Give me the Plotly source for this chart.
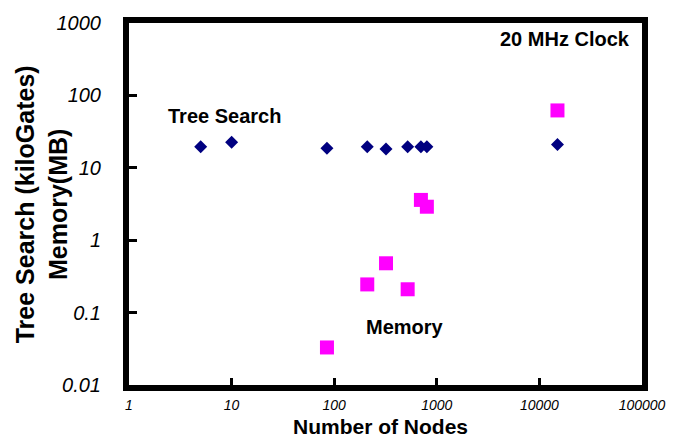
import plotly.graph_objects as go

tree_nodes = [5, 10, 85, 210, 320, 520, 700, 800, 15000]
tree_kgates = [19.5, 22.5, 18.6, 19.5, 18.2, 19.5, 19.5, 19.5, 21]
mem_nodes = [85, 210, 320, 520, 700, 800, 15000]
mem_mb = [0.033, 0.245, 0.48, 0.21, 3.6, 2.9, 62]

x_ticks = [1, 10, 100, 1000, 10000, 100000]
x_labels = ["1", "10", "100", "1000", "10000", "100000"]
y_ticks = [0.01, 0.1, 1, 10, 100, 1000]
y_labels = ["0.01", "0.1", "1", "10", "100", "1000"]

FONT = "Liberation Sans, Arial, sans-serif"

fig = go.Figure()
fig.add_trace(go.Scatter(x=tree_nodes, y=tree_kgates, mode="markers", name="Tree Search",
                         marker=dict(symbol="diamond", size=10, color="#000080")))
fig.add_trace(go.Scatter(x=mem_nodes, y=mem_mb, mode="markers", name="Memory",
                         marker=dict(symbol="square", size=14, color="#FF00FF")))

fig.update_xaxes(type="log", range=[0, 5], tickvals=x_ticks, ticktext=["<i>%s</i>" % t for t in x_labels],
                 tickfont=dict(family=FONT, size=14, color="black"), ticklabelstandoff=2,
                 showgrid=False, zeroline=False, showline=True, linecolor="black", linewidth=6, mirror=True,
                 ticks="inside", ticklen=7, tickwidth=3, tickcolor="black")
fig.update_yaxes(type="log", range=[-2, 3], tickvals=y_ticks, ticktext=["<i>%s</i>" % t for t in y_labels],
                 tickfont=dict(family=FONT, size=20, color="black"), ticklabelstandoff=18,
                 showgrid=False, zeroline=False, showline=True, linecolor="black", linewidth=6, mirror=True,
                 ticks="inside", ticklen=8, tickwidth=3, tickcolor="black")

fig.add_annotation(x=-0.171, y=0.5, xref="paper", yref="paper", textangle=-90,
                   text="<b>Tree Search (kiloGates)<br>Memory(MB)</b>", showarrow=False,
                   font=dict(family=FONT, size=25, color="black"), xanchor="center", yanchor="middle")
fig.add_annotation(x=0.491, y=-0.115, xref="paper", yref="paper",
                   text="<b>Number of Nodes</b>", showarrow=False,
                   font=dict(family=FONT, size=21, color="black"), xanchor="center", yanchor="middle")
fig.add_annotation(x=0.932, y=1.72, xref="x", yref="y", text="<b>Tree Search</b>", showarrow=False,
                   font=dict(family=FONT, size=20, color="black"), xanchor="center", yanchor="middle")
fig.add_annotation(x=2.689, y=-1.2, xref="x", yref="y", text="<b>Memory</b>", showarrow=False,
                   font=dict(family=FONT, size=20, color="black"), xanchor="center", yanchor="middle")
fig.add_annotation(x=0.9806, y=0.955, xref="paper", yref="paper", text="<b>20 MHz Clock</b>", showarrow=False,
                   font=dict(family=FONT, size=20, color="black"), xanchor="right", yanchor="middle")

fig.update_layout(width=681, height=441, margin=dict(l=129, r=39, t=16, b=56),
                  plot_bgcolor="rgba(0,0,0,0)", paper_bgcolor="white", showlegend=False)
fig.write_html("out.html")
